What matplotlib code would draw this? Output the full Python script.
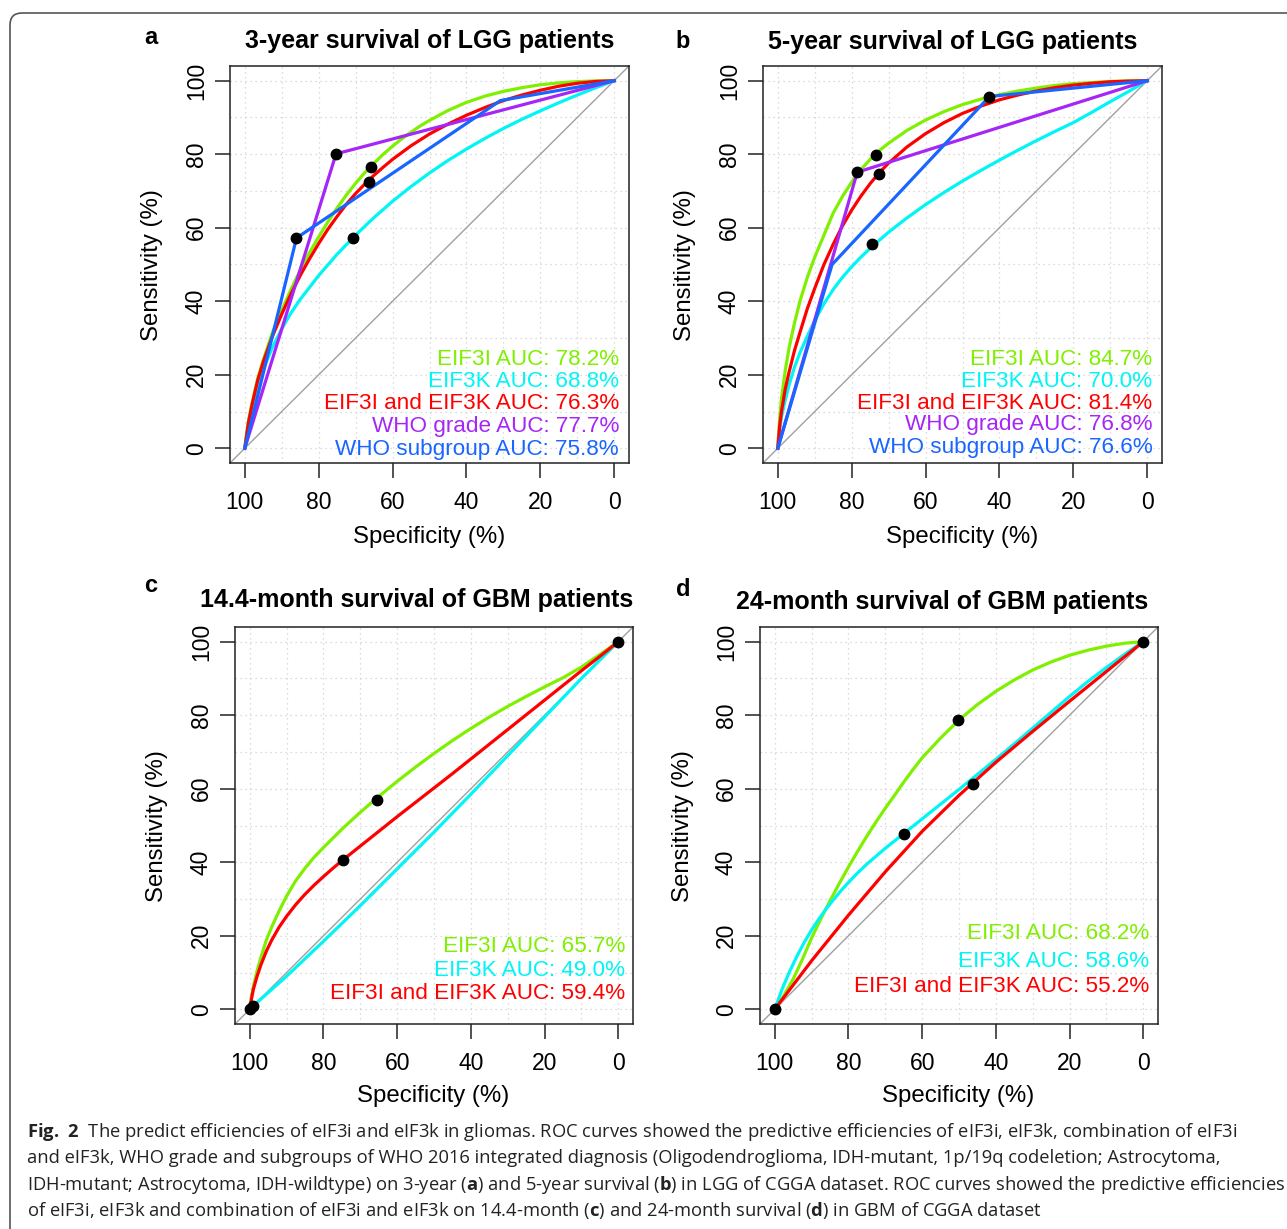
import matplotlib
matplotlib.use("Agg")
import matplotlib.pyplot as plt
from matplotlib.patches import FancyBboxPatch

W, H = 1287, 1229

plt.rcParams["font.family"] = ["Liberation Sans", "DejaVu Sans"]
plt.rcParams["mathtext.fontset"] = "custom"
plt.rcParams["mathtext.rm"] = "Open Sans"
plt.rcParams["mathtext.bf"] = "Open Sans:bold"

GREEN = "#7FF000"
CYAN = "#00F5F5"
RED = "#FF0000"
PURPLE = "#A626F5"
BLUE = "#1865FF"

ticks = [0, 20, 40, 60, 80, 100]

# ----- panel a : 3-year survival of LGG -----
a_spec_eif3i = [100, 99, 98, 96.5, 95, 92.5, 90, 87.5, 85, 82.5, 80, 77.5, 75, 72.5, 70, 67.5, 65,
                62.5, 60, 57.5, 55, 52.5, 50, 45, 40, 35, 30, 25, 20, 15, 10, 5, 0]
a_sens_eif3i = [0, 7.5, 12.5, 19, 24, 31.5, 37.5, 43.2, 48.4, 53.2, 57.5, 61.6, 65.4, 68.9, 72.1, 75, 77.6,
                80, 82.2, 84.2, 86, 87.7, 89.2, 91.9, 94.1, 95.8, 97.1, 98.1, 98.9, 99.4, 99.75, 99.95, 100]
a_spec_eif3k = [100, 99, 97.5, 95, 92.5, 90, 87.5, 85, 80, 75, 70, 65, 60, 55, 50, 45, 40, 35, 30,
                25, 20, 15, 10, 5, 0]
a_sens_eif3k = [0, 7, 13.5, 21.5, 27.5, 32.5, 36.8, 40.5, 47, 52.8, 58, 62.8, 67.2, 71.2, 74.9, 78.3, 81.4,
                84.3, 87, 89.5, 91.8, 94, 96.1, 98.1, 100]
a_spec_both = [100, 99, 98, 96.5, 95, 92.5, 90, 87.5, 85, 82.5, 80, 77.5, 75, 72.5, 70, 67.5, 65, 62.5,
               60, 55, 50, 45, 40, 35, 30, 25, 20, 15, 10, 5, 0]
a_sens_both = [0, 7, 12, 18.5, 23.5, 30.5, 36.5, 42, 47, 51.5, 55.7, 59.6, 63.1, 66.4, 69.3, 71.9, 74.3, 76.5,
               78.6, 82.3, 85.5, 88.2, 90.6, 92.7, 94.6, 96.1, 97.4, 98.5, 99.3, 99.8, 100]
a_spec_grade = [100, 75.3, 0]
a_sens_grade = [0, 80.1, 100]
a_spec_subgroup = [100, 86, 30.8, 0]
a_sens_subgroup = [0, 57.2, 94.6, 100]
a_dot_spec = [75.3, 65.9, 66.5, 86, 70.6]
a_dot_sens = [80.1, 76.5, 72.4, 57.2, 57.2]
a_auc = ["78.2%", "68.8%", "76.3%", "77.7%", "75.8%"]

# ----- panel b : 5-year survival of LGG -----
b_spec_eif3i = [100, 99.5, 99, 98, 97, 95.5, 94, 92, 90, 87.5, 85, 82.5, 80, 77.5, 75, 72.5, 70, 65,
                60, 55, 50, 45, 40, 35, 30, 25, 20, 15, 10, 5, 0]
b_sens_eif3i = [0, 8, 13.5, 21, 27, 34, 40, 46.5, 52, 58, 64, 68.5, 72.4, 75.8, 78.6, 81, 83, 86.5,
                89.3, 91.6, 93.5, 95, 96.2, 97.2, 98, 98.7, 99.2, 99.5, 99.8, 99.95, 100]
b_spec_eif3k = [100, 99.5, 99, 98, 97, 95.5, 94, 92, 90, 87.5, 85, 82.5, 80, 77.5, 75, 70, 65, 60,
                55, 50, 45, 40, 35, 30, 25, 20, 15, 10, 5, 0]
b_sens_eif3k = [0, 5, 8.5, 13, 17, 22, 26, 30.5, 34.8, 39.3, 43.2, 46.5, 49.4, 52, 54.4, 58.8, 62.7, 66.3,
                69.6, 72.7, 75.6, 78.4, 81.1, 83.7, 86.2, 88.6, 91.4, 94.3, 97.1, 100]
b_spec_both = [100, 99.5, 99, 98, 97, 95.5, 94, 92, 90, 87.5, 85, 82.5, 80, 77.5, 75, 72.5, 70, 65,
               60, 55, 50, 45, 40, 35, 30, 25, 20, 15, 10, 5, 0]
b_sens_both = [0, 6, 10, 16, 20.5, 26.5, 31.5, 38, 43.5, 50, 55.5, 60.5, 64.8, 68.6, 72, 75, 77.6, 82,
               85.6, 88.6, 91.1, 93.1, 94.8, 96.1, 97.2, 98.1, 98.8, 99.3, 99.7, 99.9, 100]
b_spec_grade = [100, 78.5, 0]
b_sens_grade = [0, 75.1, 100]
b_spec_subgroup = [100, 85.3, 42.7, 0]
b_sens_subgroup = [0, 50, 95.7, 100]
b_dot_spec = [73.3, 78.5, 72.7, 42.7, 74.4]
b_dot_sens = [79.9, 75.1, 74.5, 95.7, 55.7]
b_auc = ["84.7%", "70.0%", "81.4%", "76.8%", "76.6%"]

# ----- panel c : 14.4-month survival of GBM -----
c_spec_eif3i = [100, 99.5, 99, 98, 97, 95.5, 94, 92, 90, 87.5, 85, 82.5, 80, 75, 70, 65, 60, 55, 50,
                45, 40, 35, 30, 25, 20, 15, 10, 5, 0]
c_sens_eif3i = [0, 3.5, 6.3, 10.5, 14, 18.8, 22.5, 26.8, 30.8, 35, 38.4, 41.4, 44, 49, 53.6, 57.9, 62,
                65.9, 69.6, 73.1, 76.4, 79.5, 82.4, 85.1, 87.7, 90.2, 93.1, 96.5, 100]
c_spec_eif3k = [99.2, 90, 80, 70, 60, 50, 40, 30, 20, 10, 0]
c_sens_eif3k = [0.8, 9, 18.5, 28.2, 38.2, 48.2, 58.5, 69, 79.5, 90, 100]
c_spec_both = [100, 99.5, 99, 98, 97, 95.5, 94, 92, 90, 87.5, 85, 82.5, 80, 77.5, 75, 70, 65, 60, 55,
               50, 45, 40, 35, 30, 25, 20, 15, 10, 5, 0]
c_sens_both = [0, 3, 5.5, 9, 12, 15.8, 18.9, 22.4, 25.3, 28.5, 31.3, 33.8, 36.1, 38.3, 40.4, 44.4, 48.4,
               52.4, 56.3, 60.2, 64.1, 68.1, 72.1, 76.1, 80.1, 84.1, 88.1, 92.1, 96, 100]
c_dot_spec = [100, 99.2, 65.6, 74.8, 0]
c_dot_sens = [0, 0.8, 57, 40.5, 100]
c_auc = ["65.7%", "49.0%", "59.4%"]

# ----- panel d : 24-month survival of GBM -----
d_spec_eif3i = [100, 97.5, 95, 92.5, 90, 87.5, 85, 82.5, 80, 77.5, 75, 72.5, 70, 67.5, 65, 62.5, 60,
                55, 50, 45, 40, 35, 30, 25, 20, 15, 10, 5, 0]
d_sens_eif3i = [0, 3.8, 8.2, 13.6, 19.4, 24.6, 29.5, 34.2, 38.7, 43, 47.1, 51, 54.7, 58.2, 61.8, 65.2,
                68.4, 73.8, 78.7, 82.9, 86.5, 89.6, 92.3, 94.5, 96.3, 97.7, 98.8, 99.6, 100]
d_spec_eif3k = [100, 98, 96, 94, 92, 90, 88, 86, 84, 82, 80, 77.5, 75, 70, 65, 60, 55, 50, 45, 40,
                35, 30, 25, 20, 15, 10, 5, 0]
d_sens_eif3k = [0, 5.5, 10.2, 14.4, 18.2, 21.6, 24.6, 27.4, 29.9, 32.3, 34.5, 37.1, 39.5, 43.8, 47.8,
                51.8, 55.8, 59.8, 63.9, 68, 72.2, 76.5, 80.8, 85.1, 89.2, 93, 96.6, 100]
d_spec_both = [100, 90, 80, 70, 60, 50, 40, 30, 20, 10, 0]
d_sens_both = [0, 13.2, 25.6, 37.4, 48.4, 58.2, 67.2, 75.6, 83.8, 91.9, 100]
d_dot_spec = [100, 0, 50.2, 46.3, 65]
d_dot_sens = [0, 100, 78.7, 61.4, 47.8]
d_auc = ["68.2%", "58.6%", "55.2%"]

names = ["EIF3I", "EIF3K", "EIF3I and EIF3K", "WHO grade", "WHO subgroup"]
colors = [GREEN, CYAN, RED, PURPLE, BLUE]

fig = plt.figure(figsize=(W / 100, H / 100), dpi=100)


def px(x, y):
    return x / W, 1 - y / H


def draw_panel(box, curves, dot_spec, dot_sens, aucs, leg_x, leg_y):
    x0, y0, x1, y1 = box
    ax = fig.add_axes([x0 / W, 1 - y1 / H, (x1 - x0) / W, (y1 - y0) / H])
    ax.set_xlim(104, -4)
    ax.set_ylim(-4, 104)
    for v in range(0, 101, 10):
        ax.axhline(v, color="#d0d0d0", lw=0.9, ls=(0, (1, 3)), zorder=0)
        ax.axvline(v, color="#d0d0d0", lw=0.9, ls=(0, (1, 3)), zorder=0)
    ax.axline((100, 0), (0, 100), color="#a0a0a0", lw=1.0, zorder=1)
    for (spec, sens), col in zip(curves, colors):
        ax.plot(spec, sens, color=col, lw=2.3, solid_joinstyle="round", zorder=2)
    ax.plot(dot_spec, dot_sens, "o", color="black", ms=7.5, zorder=3)
    for name, auc, col, y in zip(names, aucs, colors, leg_y):
        ax.text(leg_x, y, f"{name} AUC: {auc}", color=col, ha="right",
                va="center", fontsize=16.2, zorder=4)
    ax.set_xticks(ticks)
    ax.set_yticks(ticks)
    ax.set_xticklabels([str(t) for t in ticks])
    ax.set_yticklabels([str(t) for t in ticks])
    ax.tick_params(length=11, width=1.1, labelsize=16.5, color="#222222")
    ax.tick_params(axis="x", pad=9)
    ax.tick_params(axis="y", pad=5, labelrotation=90)
    for lbl in ax.get_yticklabels():
        lbl.set_va("center")
    for s in ax.spines.values():
        s.set_linewidth(1.1)
        s.set_color("#222222")
    return ax


draw_panel((230, 66, 629, 463),
           [(a_spec_eif3i, a_sens_eif3i), (a_spec_eif3k, a_sens_eif3k),
            (a_spec_both, a_sens_both), (a_spec_grade, a_sens_grade),
            (a_spec_subgroup, a_sens_subgroup)],
           a_dot_spec, a_dot_sens, a_auc, -1.3, [24.1, 18.2, 12.3, 6.0, -0.3])
draw_panel((763, 66, 1162, 463),
           [(b_spec_eif3i, b_sens_eif3i), (b_spec_eif3k, b_sens_eif3k),
            (b_spec_both, b_sens_both), (b_spec_grade, b_sens_grade),
            (b_spec_subgroup, b_sens_subgroup)],
           b_dot_spec, b_dot_sens, b_auc, -1.4, [24.1, 18.2, 12.3, 6.4, 0.1])
draw_panel((235, 627, 633, 1024),
           [(c_spec_eif3i, c_sens_eif3i), (c_spec_eif3k, c_sens_eif3k),
            (c_spec_both, c_sens_both)],
           c_dot_spec, c_dot_sens, c_auc, -1.8, [17.1, 10.6, 4.2])
draw_panel((760, 627, 1158, 1024),
           [(d_spec_eif3i, d_sens_eif3i), (d_spec_eif3k, d_sens_eif3k),
            (d_spec_both, d_sens_both)],
           d_dot_spec, d_dot_sens, d_auc, -1.6, [20.6, 13.1, 6.3])

# ----- titles and labels -----
titles = ["3-year survival of LGG patients", "5-year survival of LGG patients",
          "14.4-month survival of GBM patients", "24-month survival of GBM patients"]
title_xy = [(430, 41), (953, 42), (417, 600), (942, 602)]
letters = ["a", "b", "c", "d"]
letter_xy = [(151, 38), (683, 42), (151, 585), (683, 590)]
xlab_xy = [(429, 537), (962, 537), (433, 1096), (958, 1096)]
ylab_xy = [(152, 265), (685, 265), (157, 826), (683, 826)]

for t, (x, y) in zip(titles, title_xy):
    fig.text(*px(x, y), t, ha="center", va="center", fontsize=18, fontweight="bold")
for t, (x, y) in zip(letters, letter_xy):
    fig.text(*px(x, y), t, ha="center", va="center", fontsize=17, fontweight="bold")
for x, y in xlab_xy:
    fig.text(*px(x, y), "Specificity (%)", ha="center", va="center", fontsize=17.3)
for x, y in ylab_xy:
    fig.text(*px(x, y), "Sensitivity (%)", ha="center", va="center", fontsize=17.3,
             rotation=90)

# ----- caption -----
caption = [
    r"$\mathbf{Fig.\ 2}$  The predict efficiencies of eIF3i and eIF3k in gliomas. ROC curves showed the predictive efficiencies of eIF3i, eIF3k, combination of eIF3i",
    "and eIF3k, WHO grade and subgroups of WHO 2016 integrated diagnosis (Oligodendroglioma, IDH-mutant, 1p/19q codeletion; Astrocytoma,",
    r"IDH-mutant; Astrocytoma, IDH-wildtype) on 3-year ($\mathbf{a}$) and 5-year survival ($\mathbf{b}$) in LGG of CGGA dataset. ROC curves showed the predictive efficiencies",
    r"of eIF3i, eIF3k and combination of eIF3i and eIF3k on 14.4-month ($\mathbf{c}$) and 24-month survival ($\mathbf{d}$) in GBM of CGGA dataset",
]
cap_y = [1137, 1163, 1190, 1216]
for line, y in zip(caption, cap_y):
    fig.text(*px(27, y), line, ha="left", va="baseline", fontsize=13.2,
             family=["Open Sans", "DejaVu Sans"], color="#222222")

# ----- frame -----
frame = FancyBboxPatch((10, -30), 1320, H - 13 + 30,
                       boxstyle="round,pad=0,rounding_size=12",
                       transform=None, fill=False, ec="#555555", lw=1.2)
fig.patches.append(frame)

fig.savefig("out.png", dpi=100)
